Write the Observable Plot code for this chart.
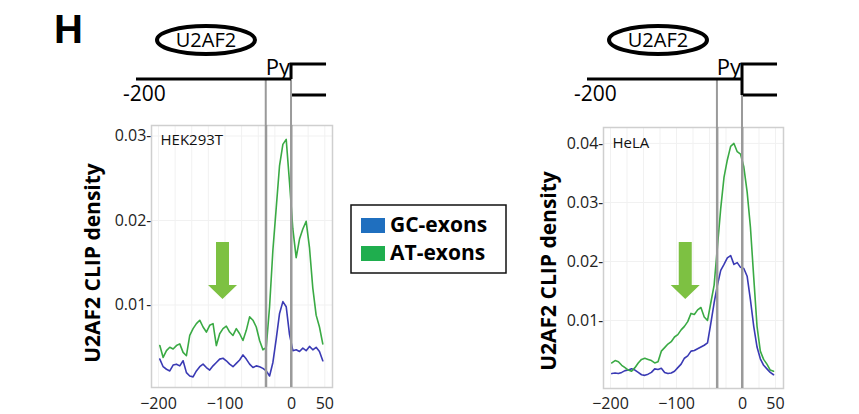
<!DOCTYPE html>
<html>
<head>
<meta charset="utf-8">
<script src="https://cdn.jsdelivr.net/npm/d3@7"></script>
<script src="https://cdn.jsdelivr.net/npm/@observablehq/plot@0.6"></script>
<style>
  html, body { margin: 0; padding: 0; background: #fff; }
  #wrap { position: relative; width: 859px; height: 414px; overflow: hidden; font-family: "Open Sans", sans-serif; }
  #wrap > svg, #wrap > div { position: absolute; top: 0; }
</style>
</head>
<body>
<div id="wrap"></div>
<script>
// ---- data ----
const positions = [-198,-193,-188,-183,-178,-173,-168,-163,-158,-153,-148,-143,-138,-133,-128,-123,-118,-113,-108,-103,-98,-93,-88,-83,-78,-73,-68,-63,-58,-53,-48,-43,-38,-33,-28,-23,-18,-13,-8,-3,2,7,12,17,22,27,32,37,42,47];

const hekAT = [0.0052,0.0038,0.0046,0.0050,0.0048,0.0052,0.0054,0.0044,0.0040,0.0064,0.0072,0.0078,0.0082,0.0074,0.0068,0.0076,0.0078,0.0052,0.0066,0.0072,0.0075,0.0068,0.0064,0.0072,0.0066,0.0058,0.0070,0.0086,0.0082,0.0074,0.0058,0.0047,0.0050,0.0098,0.0165,0.0215,0.0265,0.0290,0.0296,0.0245,0.0190,0.0156,0.0178,0.0190,0.0199,0.0168,0.0120,0.0088,0.0074,0.0054];
const hekGC = [0.0036,0.0027,0.0024,0.0022,0.0029,0.0030,0.0028,0.0034,0.0020,0.0016,0.0015,0.0022,0.0027,0.0030,0.0026,0.0023,0.0028,0.0032,0.0036,0.0037,0.0034,0.0030,0.0027,0.0031,0.0035,0.0041,0.0036,0.0030,0.0026,0.0028,0.0027,0.0025,0.0022,0.0016,0.0032,0.0060,0.0090,0.0104,0.0098,0.0065,0.0046,0.0047,0.0045,0.0049,0.0046,0.0051,0.0047,0.0050,0.0045,0.0034];

const helaAT = [0.0028,0.0032,0.0030,0.0024,0.0020,0.0016,0.0014,0.0020,0.0028,0.0034,0.0036,0.0034,0.0032,0.0028,0.0030,0.0048,0.0054,0.0060,0.0064,0.0072,0.0076,0.0084,0.0090,0.0098,0.0112,0.0110,0.0118,0.0122,0.0106,0.0100,0.0130,0.0160,0.0225,0.0290,0.0343,0.0372,0.0395,0.0400,0.0386,0.0382,0.0360,0.0318,0.0258,0.0173,0.0090,0.0048,0.0034,0.0026,0.0016,0.0014];
const helaGC = [0.0010,0.0011,0.0010,0.0012,0.0015,0.0016,0.0018,0.0016,0.0012,0.0008,0.0007,0.0009,0.0012,0.0018,0.0017,0.0019,0.0012,0.0010,0.0011,0.0014,0.0020,0.0026,0.0036,0.0040,0.0048,0.0049,0.0052,0.0055,0.0058,0.0062,0.0095,0.0130,0.0160,0.0185,0.0195,0.0206,0.0210,0.0195,0.0198,0.0190,0.0188,0.0175,0.0135,0.0090,0.0055,0.0035,0.0024,0.0018,0.0012,0.0008];

const xTicks = [-200, -100, 0, 50];
const hekYTicks = [0.01, 0.02, 0.03];
const helaYTicks = [0.01, 0.02, 0.03, 0.04];
const gridX = [-200, -175, -150, -125, -100, -75, -50, -25, 0, 25, 50];
const boundaries = [-38, 0];           // Py start and 3' splice site
const arrowAt = {hek: -103, hela: -86}; // position of the green arrows
const seriesNames = ["GC-exons", "AT-exons"];
const cellLines = ["HEK293T", "HeLA"];

const lineColors = {GC: "#3a3ab4", AT: "#3aaa44"};
const swatchColors = ["#1f6fbf", "#1fae4e"];

function panel(cfg) {
  return Plot.plot({
    width: cfg.width, height: 414,
    marginLeft: cfg.ml, marginRight: cfg.mr, marginTop: cfg.mt, marginBottom: cfg.mb,
    x: {domain: cfg.xd, ticks: xTicks, tickSize: 0, tickPadding: cfg.tp, label: null},
    y: {domain: cfg.yd, ticks: cfg.yt, tickSize: 0, tickPadding: 0, label: null,
        tickFormat: d => d.toFixed(2) + "-"},
    style: {fontFamily: "Open Sans, sans-serif", fontSize: "16px", color: "#222", background: "transparent", overflow: "visible"},
    marks: [
      Plot.ruleX(gridX, {stroke: "#f1f1f1", strokeWidth: 1}),
      Plot.ruleY(cfg.yt, {stroke: "#f1f1f1", strokeWidth: 1}),
      Plot.frame({stroke: "#cfcfcf", strokeWidth: 1.5}),
      Plot.lineY(cfg.gc, {x: (d, i) => positions[i], y: d => d, stroke: lineColors.GC, strokeWidth: 1.6}),
      Plot.lineY(cfg.at, {x: (d, i) => positions[i], y: d => d, stroke: lineColors.AT, strokeWidth: 1.6}),
      Plot.ruleX(boundaries, {stroke: "#9a9a9a", strokeWidth: 2}),
      Plot.text([cfg.label], {frameAnchor: "top-left", dx: 9, dy: cfg.labelDy, lineAnchor: "middle", textAnchor: "start", fontSize: 15, fill: "#111"})
    ]
  });
}

const wrap = document.getElementById("wrap");

const left = panel({width: 430, ml: 151, mr: 98, mt: 125, mb: 27, tp: 10,
  xd: [-210.5, 61.6], yd: [0.00024, 0.03124], yt: hekYTicks,
  gc: hekGC, at: hekAT, label: cellLines[0], labelDy: 15});
left.style.left = "0px";
wrap.appendChild(left);

const right = panel({width: 429, ml: 173, mr: 76, mt: 127, mb: 26, tp: 9,
  xd: [-210.6, 62.1], yd: [-0.00153, 0.0427], yt: helaYTicks,
  gc: helaGC, at: helaAT, label: cellLines[1], labelDy: 16});
right.style.left = "430px";
wrap.appendChild(right);

// ---- overlay: schematic, arrows, legend, labels ----
const ov = d3.select(wrap).append("svg")
  .attr("width", 859).attr("height", 414)
  .style("left", "0px").style("font-family", "Open Sans, sans-serif");

ov.append("text").attr("x", 54).attr("y", 43).attr("font-size", 40).attr("font-weight", 700)
  .attr("font-family", "Liberation Sans, Arial, sans-serif").text("H");

function schematic(chart, offset, cfg) {
  const sx = chart.scale("x"), sy = chart.scale("y");
  const xPy = offset + sx.apply(boundaries[0]);
  const x0 = offset + sx.apply(boundaries[1]);
  const yBottom = sy.apply(cfg.yBottom);
  ov.append("line").attr("x1", xPy).attr("x2", xPy).attr("y1", 79).attr("y2", yBottom)
    .attr("stroke", "#9a9a9a").attr("stroke-width", 2);
  ov.append("line").attr("x1", x0).attr("x2", x0).attr("y1", 79).attr("y2", yBottom)
    .attr("stroke", "#9a9a9a").attr("stroke-width", 2);
  ov.append("line").attr("x1", cfg.lineStart).attr("x2", x0).attr("y1", 79).attr("y2", 79)
    .attr("stroke", "#000").attr("stroke-width", 3);
  ov.append("path").attr("d", `M${x0},${cfg.blackBottom} V64 H${x0 + 35} M${x0 + 1},95 H${x0 + 35}`)
    .attr("fill", "none").attr("stroke", "#000").attr("stroke-width", 3);
  ov.append("text").attr("x", x0 - 1).attr("y", 75).attr("text-anchor", "end")
    .attr("font-size", 22).text("Py");
  ov.append("text").attr("x", cfg.lineStart - 13).attr("y", 101)
    .attr("font-size", 21).text("-200");
  ov.append("ellipse").attr("cx", cfg.ex).attr("cy", 40).attr("rx", 49).attr("ry", 14)
    .attr("fill", "none").attr("stroke", "#000").attr("stroke-width", 4);
  ov.append("text").attr("x", cfg.ex).attr("y", 47).attr("text-anchor", "middle")
    .attr("font-size", 20).text("U2AF2");
  const ax = offset + sx.apply(cfg.arrowX);
  ov.append("path")
    .attr("d", `M${ax - 6.5},242 H${ax + 6.5} V285 H${ax + 14.5} L${ax},299 L${ax - 14.5},285 H${ax - 6.5} Z`)
    .attr("fill", "#7dc142");
  ov.append("text").attr("transform", `translate(${cfg.titleX},${cfg.titleY}) rotate(-90)`)
    .attr("text-anchor", "middle").attr("font-size", 21).attr("font-weight", 700)
    .text("U2AF2 CLIP density");
}

schematic(left, 0, {yBottom: 0.00024, lineStart: 136, blackBottom: 79, ex: 206, arrowX: arrowAt.hek, titleX: 100, titleY: 263});
schematic(right, 430, {yBottom: -0.00153, lineStart: 587, blackBottom: 95, ex: 658, arrowX: arrowAt.hela, titleX: 556, titleY: 271});

const lg = ov.append("g");
lg.append("rect").attr("x", 351).attr("y", 205).attr("width", 155).attr("height", 68)
  .attr("fill", "#fff").attr("stroke", "#111").attr("stroke-width", 1.5);
seriesNames.forEach((name, i) => {
  const y = 225 + i * 28;
  lg.append("rect").attr("x", 361).attr("y", y - 7).attr("width", 24).attr("height", 15).attr("fill", swatchColors[i]);
  lg.append("text").attr("x", 390).attr("y", y + 7).attr("font-size", 21).attr("font-weight", 700).text(name);
});
</script>
</body>
</html>
